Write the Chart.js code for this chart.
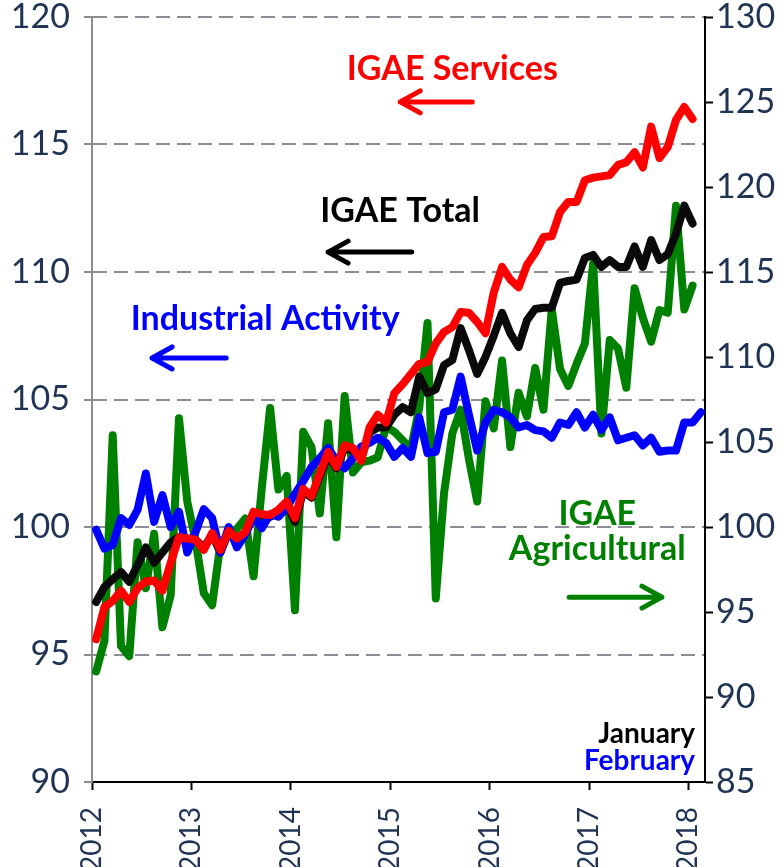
<!DOCTYPE html>
<html>
<head>
<meta charset="utf-8">
<script src="https://cdn.jsdelivr.net/npm/chart.js@4.4.1/dist/chart.umd.min.js"></script>
<style>
  html, body { margin: 0; padding: 0; background: #fff; }
  #wrap { width: 783px; height: 867px; }
</style>
</head>
<body>
<div id="wrap"><canvas id="chart" width="783" height="867"></canvas></div>
<script>
// monthly index, Jan 2012 .. Feb 2018 (74 months), one tick per January
const yearLabels = ['2012', '2013', '2014', '2015', '2016', '2017', '2018'];

// IGAE Services (left axis), Jan 2012 - Jan 2018
const services = [
  95.6, 96.86, 97.1, 97.5, 97.06, 97.6, 97.86, 97.9, 97.5, 98.6, 99.6, 99.55,
  99.5, 99.1, 99.76, 99.1, 99.85, 99.55, 99.8, 100.6, 100.5, 100.47, 100.67, 101.0,
  100.35, 101.5, 101.2, 102.1, 102.94, 102.35, 103.2, 103.1, 102.6, 103.9, 104.4, 104.1,
  105.25, 105.6, 106.0, 106.4, 106.47, 107.2, 107.65, 107.84, 108.43, 108.4, 108.04, 107.6,
  109.2, 110.2, 109.7, 109.4, 110.27, 110.75, 111.37, 111.4, 112.35, 112.75, 112.75, 113.6,
  113.7, 113.75, 113.8, 114.2, 114.3, 114.7, 114.1, 115.7, 114.47, 114.9, 115.96, 116.47,
  116.0
];

// IGAE Total (left axis)
const total = [
  97.06, 97.65, 97.95, 98.24, 97.85, 98.5, 99.2, 98.6, 99.0, 99.4, 99.6, 99.55,
  99.5, 99.2, 99.7, 99.0, 99.8, 99.55, 99.75, 100.5, 100.45, 100.4, 100.6, 100.9,
  100.2, 101.4, 101.15, 102.0, 102.8, 102.3, 103.1, 103.0, 102.7, 103.7, 103.9, 103.9,
  104.4, 104.7, 104.5, 105.9, 105.25, 105.4, 106.35, 106.55, 107.8, 106.94, 106.0, 106.67,
  107.5, 108.4, 107.6, 107.06, 108.1, 108.55, 108.6, 108.6, 109.57, 109.65, 109.7, 110.55,
  110.67, 110.2, 110.47, 110.2, 110.2, 111.0, 110.2, 111.25, 110.47, 110.7, 111.5, 112.6,
  111.9
];

// Industrial Activity (left axis), Jan 2012 - Feb 2018
const industrial = [
  99.9, 99.15, 99.3, 100.35, 100.08, 100.67, 102.1, 100.2, 101.25, 100.0, 100.6, 99.0,
  99.8, 100.7, 100.35, 99.0, 100.0, 99.2, 99.7, 100.4, 99.95, 100.5, 100.4, 100.75,
  101.3, 101.8, 102.35, 102.7, 103.1, 102.6, 102.3, 102.7, 103.15, 103.3, 103.5, 103.3,
  102.75, 103.1, 102.75, 104.3, 102.9, 102.95, 104.5, 104.6, 105.9, 104.4, 103.0, 104.1,
  104.6, 104.5, 104.3, 103.9, 104.0, 103.8, 103.75, 103.5, 104.1, 104.0, 104.5, 103.9,
  104.4, 103.8, 104.3, 103.4, 103.5, 103.6, 103.2, 103.5, 102.95, 103.0, 103.0, 104.1,
  104.1, 104.5
];

// IGAE Agricultural (right axis)
const agricultural = [
  91.5, 93.3, 105.4, 93.0, 92.4, 99.1, 96.4, 99.6, 94.1, 96.0, 106.4, 101.5,
  99.2, 96.1, 95.4, 99.0, 99.6, 99.9, 100.5, 97.1, 102.3, 107.0, 102.2, 103.0,
  95.1, 105.6, 104.7, 100.8, 106.1, 99.4, 107.7, 103.2, 103.8, 103.9, 104.1, 105.9,
  105.6, 105.1, 104.6, 107.0, 112.0, 95.8, 102.0, 105.5, 106.9, 104.0, 101.5, 107.4,
  105.8, 109.8, 104.7, 107.9, 106.5, 109.35, 106.9, 112.8, 109.3, 108.3, 109.6, 110.8,
  115.5, 105.5, 111.0, 110.5, 108.2, 114.05, 112.3, 110.9, 112.76, 112.6, 118.9, 112.8,
  114.2
];

const leftTicks = { min: 90, max: 120, step: 5 };
const rightTicks = { min: 85, max: 130, step: 5 };

// points sit in the middle of each month slot
const toPoints = arr => arr.map((v, i) => ({ x: i + 0.5, y: v }));

const tickFont = { family: 'Lato', size: 34 };
const yearFont = { family: 'Lato', size: 28 };
const tickColor = '#1f3354';

// callouts placed in data units (x = months since Jan 2012, y = left axis)
const notes = [
  { text: 'IGAE Services', color: '#ff0000', x: 43.5, y: 117.53, size: 34, align: 'center' },
  { text: 'IGAE Total', color: '#000000', x: 37.2, y: 111.96, size: 34, align: 'center' },
  { text: 'Industrial Activity', color: '#0000ff', x: 20.9, y: 107.73, size: 34, align: 'center' },
  { text: 'IGAE', color: '#008000', x: 61.0, y: 100.08, size: 34, align: 'center' },
  { text: 'Agricultural', color: '#008000', x: 61.0, y: 98.71, size: 34, align: 'center' },
  { text: 'January', color: '#000000', x: 72.8, y: 91.53, size: 28, align: 'right' },
  { text: 'February', color: '#0000ff', x: 72.8, y: 90.47, size: 28, align: 'right' }
];
const arrows = [
  { color: '#ff0000', from: 45.9, to: 37.2, y: 116.67 },
  { color: '#000000', from: 38.6, to: 28.5, y: 110.78 },
  { color: '#0000ff', from: 16.2, to: 7.25, y: 106.63 },
  { color: '#008000', from: 57.6, to: 68.8, y: 97.25 }
];

const calloutPlugin = {
  id: 'callouts',
  afterDatasetsDraw(chart) {
    const { ctx, scales: { x, y } } = chart;
    ctx.save();
    notes.forEach(n => {
      ctx.font = 'bold ' + n.size + 'px Lato';
      ctx.fillStyle = n.color;
      ctx.textAlign = n.align;
      ctx.textBaseline = 'alphabetic';
      ctx.fillText(n.text, x.getPixelForValue(n.x), y.getPixelForValue(n.y));
    });
    arrows.forEach(a => {
      const x1 = x.getPixelForValue(a.from);
      const x2 = x.getPixelForValue(a.to);
      const py = y.getPixelForValue(a.y);
      const dir = x2 < x1 ? 1 : -1;
      ctx.strokeStyle = a.color;
      ctx.lineWidth = 5;
      ctx.lineCap = 'round';
      ctx.lineJoin = 'round';
      ctx.beginPath();
      ctx.moveTo(x1, py);
      ctx.lineTo(x2, py);
      ctx.moveTo(x2 + dir * 20, py - 11);
      ctx.lineTo(x2, py);
      ctx.lineTo(x2 + dir * 20, py + 11);
      ctx.stroke();
    });
    ctx.restore();
  }
};

const lineStyle = {
  borderWidth: 8,
  pointRadius: 0,
  tension: 0,
  fill: false,
  borderJoinStyle: 'round',
  borderCapStyle: 'round',
  clip: false
};

new Chart(document.getElementById('chart'), {
  type: 'line',
  data: {
    datasets: [
      { ...lineStyle, label: 'IGAE Services', data: toPoints(services), borderColor: '#ff0000', yAxisID: 'y', order: 1 },
      { ...lineStyle, label: 'Industrial Activity', data: toPoints(industrial), borderColor: '#0000ff', yAxisID: 'y', order: 2 },
      { ...lineStyle, label: 'IGAE Total', data: toPoints(total), borderColor: '#0a0a0a', yAxisID: 'y', order: 3 },
      { ...lineStyle, label: 'IGAE Agricultural', data: toPoints(agricultural), borderColor: '#008000', yAxisID: 'y2', order: 4 }
    ]
  },
  options: {
    responsive: false,
    animation: false,
    devicePixelRatio: 1,
    layout: { padding: { top: 17, left: 0, right: 0, bottom: 0 } },
    plugins: { legend: { display: false }, tooltip: { enabled: false } },
    scales: {
      x: {
        type: 'linear',
        min: 0,
        max: industrial.length,
        afterBuildTicks: s => { s.ticks = yearLabels.map((_, k) => ({ value: k * 12 })); },
        afterFit: s => { s.height = 85; s.paddingLeft = 0; s.paddingRight = 0; },
        ticks: {
          autoSkip: false,
          minRotation: 90,
          maxRotation: 90,
          padding: 17,
          font: yearFont,
          color: tickColor,
          callback: v => yearLabels[Math.round(v / 12)]
        },
        grid: { drawOnChartArea: false, drawTicks: true, tickLength: 8, tickColor: '#000', tickWidth: 2 },
        border: { color: '#000', width: 2 }
      },
      y: {
        position: 'left',
        min: leftTicks.min,
        max: leftTicks.max,
        afterFit: s => { s.width = 92; s.paddingTop = 0; s.paddingBottom = 0; },
        ticks: { stepSize: leftTicks.step, padding: 14, font: tickFont, color: tickColor },
        grid: { color: '#8c8c96', lineWidth: 2, tickColor: '#8c8c8c', tickWidth: 2, tickLength: 8, tickBorderDash: [] },
        border: { color: '#8c8c8c', width: 2, dash: [14, 7] }
      },
      y2: {
        position: 'right',
        min: rightTicks.min,
        max: rightTicks.max,
        afterFit: s => { s.width = 78; s.paddingTop = 0; s.paddingBottom = 0; },
        ticks: { stepSize: rightTicks.step, padding: 3, font: tickFont, color: tickColor },
        grid: { drawOnChartArea: false, tickColor: '#000', tickWidth: 2, tickLength: 8 },
        border: { color: '#000', width: 2 }
      }
    }
  },
  plugins: [calloutPlugin]
});
</script>
</body>
</html>
